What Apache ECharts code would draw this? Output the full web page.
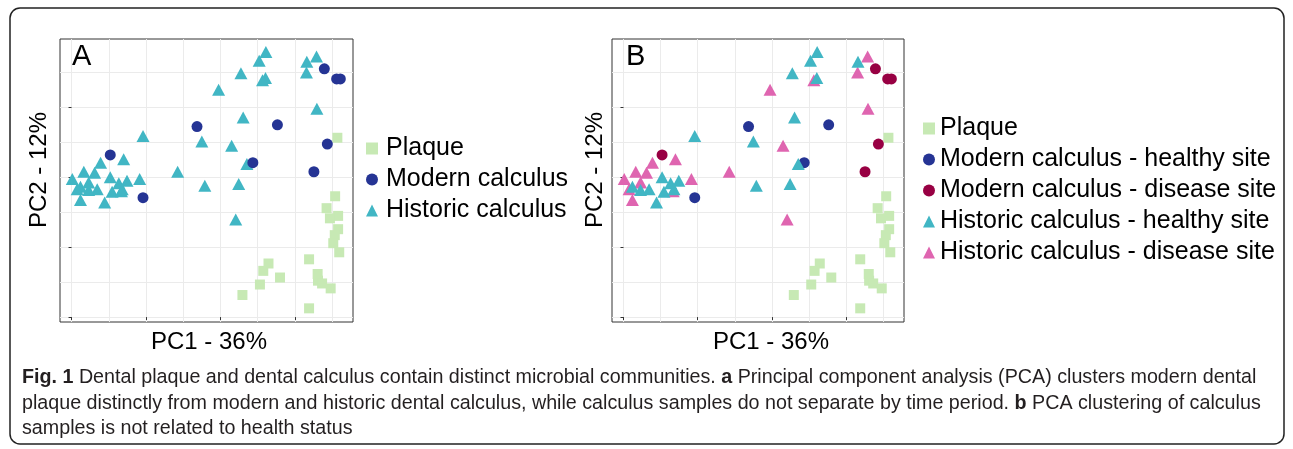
<!DOCTYPE html>
<html>
<head>
<meta charset="utf-8">
<script src="https://cdn.jsdelivr.net/npm/echarts@6/dist/echarts.min.js"></script>
<style>
  html, body { margin: 0; padding: 0; background: #fff; }
  #fig { width: 1293px; height: 449px; }
</style>
</head>
<body>
<div id="fig"></div>
<script>
// PCA scores (PC1, PC2), arbitrary units
var plaque = [
  [7.14, 5.12], [7.08, 3.45], [6.85, 3.11], [7.16, 2.89], [6.94, 2.82],
  [7.16, 2.51], [7.07, 2.34], [7.03, 2.11], [7.19, 1.85], [6.38, 1.65],
  [5.29, 1.53], [5.15, 1.32], [5.60, 1.13], [5.06, 0.93], [4.59, 0.63],
  [6.61, 1.23], [6.62, 1.04], [6.73, 0.96], [6.96, 0.82], [6.38, 0.25]
];
var modernHealthy = [[1.92, 3.41], [3.37, 5.44], [5.53, 5.49], [4.87, 4.41]];
var modernDisease = [[1.04, 4.63], [6.79, 7.09], [7.12, 6.80], [7.22, 6.80], [6.87, 4.94], [6.51, 4.15]];
var historicHealthy = [
  [5.22, 7.57], [5.04, 7.32], [4.55, 6.96], [5.21, 6.83], [4.61, 5.70],
  [3.50, 5.01], [4.71, 4.37], [3.58, 3.75], [4.49, 3.80], [6.32, 7.29],
  [1.92, 5.17], [1.04, 3.99], [0.24, 3.72], [0.69, 3.65], [1.27, 3.82],
  [1.49, 3.89], [0.89, 3.27], [1.09, 3.58], [1.36, 3.65], [0.46, 3.63]
];
var historicDisease = [
  [5.13, 6.76], [3.95, 6.49], [4.30, 4.89], [2.85, 4.15], [4.41, 2.79],
  [6.58, 7.44], [6.31, 6.98], [6.59, 5.95], [0.02, 3.94], [0.33, 4.15],
  [0.78, 4.41], [1.40, 4.51], [0.62, 4.12], [0.46, 3.84], [1.83, 3.94],
  [0.24, 3.34], [1.34, 3.59], [0.15, 3.65]
];

var tickValues = [0, 2, 4, 6];
var gridValues = [0, 1, 2, 3, 4, 5, 6, 7];
var legendA = ['Plaque', 'Modern calculus', 'Historic calculus'];
var legendB = ['Plaque', 'Modern calculus - healthy site', 'Modern calculus - disease site',
               'Historic calculus - healthy site', 'Historic calculus - disease site'];

var colors = {
  plaque: '#c7e9b4',
  modern: '#253494',
  modernDis: '#980043',
  historic: '#41b6c4',
  historicDis: '#df65b0'
};

var font = '"Liberation Sans", Arial, sans-serif';
var range = { xmin: -0.31, xmax: 7.56, ymin: -0.14, ymax: 7.94 };

function dataAxis(dim, gi) {
  return {
    type: 'value', gridIndex: gi,
    min: dim === 'x' ? range.xmin : range.ymin,
    max: dim === 'x' ? range.xmax : range.ymax,
    position: dim === 'x' ? 'bottom' : 'left',
    axisLine: { show: false },
    axisTick: { show: true, length: 3, customValues: tickValues, lineStyle: { color: '#333', width: 1 } },
    axisLabel: { show: false },
    splitLine: { show: false }
  };
}
// second axis only used for the light grid lines (major + minor)
function gridAxis(dim, gi) {
  return {
    type: 'value', gridIndex: gi,
    min: dim === 'x' ? range.xmin : range.ymin,
    max: dim === 'x' ? range.xmax : range.ymax,
    position: dim === 'x' ? 'top' : 'right',
    axisLine: { show: false },
    axisTick: { show: false, customValues: gridValues },
    axisLabel: { show: false },
    splitLine: { show: true, lineStyle: { color: '#ebebeb', width: 1 } }
  };
}

function sc(name, data, symbol, size, color, xi, yi) {
  return {
    name: name, type: 'scatter', data: data,
    xAxisIndex: xi, yAxisIndex: yi,
    symbol: symbol, symbolSize: size,
    itemStyle: { color: color, opacity: 1 },
    emphasis: { disabled: true }
  };
}

var legendText = { fontFamily: font, fontSize: 25, lineHeight: 25, color: '#000' };

var myChart = echarts.init(document.getElementById('fig'));
var option = {
  animation: false,
  backgroundColor: '#fff',
  grid: [
    { left: 60, top: 39, width: 293, height: 283, show: true, borderColor: '#333', borderWidth: 1, backgroundColor: '#fff' },
    { left: 612, top: 39, width: 292, height: 283, show: true, borderColor: '#333', borderWidth: 1, backgroundColor: '#fff' }
  ],
  xAxis: [dataAxis('x', 0), gridAxis('x', 0), dataAxis('x', 1), gridAxis('x', 1)],
  yAxis: [dataAxis('y', 0), gridAxis('y', 0), dataAxis('y', 1), gridAxis('y', 1)],
  legend: [
    {
      data: legendA, orient: 'vertical', left: 361, top: 131,
      itemWidth: 12, itemHeight: 12, itemGap: 6,
      textStyle: Object.assign({ padding: [0, 0, 0, 3] }, legendText)
    },
    {
      data: legendB, orient: 'vertical', left: 918, top: 111,
      itemWidth: 12, itemHeight: 12, itemGap: 6,
      textStyle: legendText
    }
  ],
  series: [
    sc('Plaque', plaque, 'rect', 10, colors.plaque, 0, 0),
    sc('Historic calculus', historicHealthy.concat(historicDisease), 'triangle', [13, 12], colors.historic, 0, 0),
    sc('Modern calculus', modernHealthy.concat(modernDisease), 'circle', 11, colors.modern, 0, 0),

    sc('Plaque', plaque, 'rect', 10, colors.plaque, 2, 2),
    sc('Modern calculus - disease site', modernDisease, 'circle', 11, colors.modernDis, 2, 2),
    sc('Modern calculus - healthy site', modernHealthy, 'circle', 11, colors.modern, 2, 2),
    sc('Historic calculus - disease site', historicDisease, 'triangle', [13, 12], colors.historicDis, 2, 2),
    sc('Historic calculus - healthy site', historicHealthy, 'triangle', [13, 12], colors.historic, 2, 2)
  ],
  graphic: [
    // outer rounded frame
    { type: 'rect', z: -10, shape: { x: 10, y: 8, width: 1274, height: 436, r: 10 },
      style: { fill: '#fff', stroke: '#222', lineWidth: 1.5 } },
    // panel letters
    { type: 'text', left: 72, top: 42, style: { text: 'A', font: '29px ' + font, fill: '#000' } },
    { type: 'text', left: 626, top: 42, style: { text: 'B', font: '29px ' + font, fill: '#000' } },
    // axis titles
    { type: 'text', x: 209, y: 342, style: { text: 'PC1 - 36%', font: '24px ' + font, fill: '#000', align: 'center', verticalAlign: 'middle' } },
    { type: 'text', x: 771, y: 342, style: { text: 'PC1 - 36%', font: '24px ' + font, fill: '#000', align: 'center', verticalAlign: 'middle' } },
    { type: 'text', x: 39, y: 170, rotation: Math.PI / 2, style: { text: 'PC2 - 12%', font: '24px ' + font, fill: '#000', align: 'center', verticalAlign: 'middle' } },
    { type: 'text', x: 595, y: 170, rotation: Math.PI / 2, style: { text: 'PC2 - 12%', font: '24px ' + font, fill: '#000', align: 'center', verticalAlign: 'middle' } },
    // caption
    { type: 'text', x: 22, y: 378, style: {
        text: '{b|Fig. 1} Dental plaque and dental calculus contain distinct microbial communities. {b|a} Principal component analysis (PCA) clusters modern dental',
        font: '19.7px ' + font, fill: '#231f20', verticalAlign: 'middle',
        rich: { b: { fontWeight: 'bold', fontFamily: font, fontSize: 19.7, fill: '#231f20' } } } },
    { type: 'text', x: 22, y: 404, style: {
        text: 'plaque distinctly from modern and historic dental calculus, while calculus samples do not separate by time period. {b|b} PCA clustering of calculus',
        font: '19.7px ' + font, fill: '#231f20', verticalAlign: 'middle',
        rich: { b: { fontWeight: 'bold', fontFamily: font, fontSize: 19.7, fill: '#231f20' } } } },
    { type: 'text', x: 22, y: 429, style: {
        text: 'samples is not related to health status',
        font: '19.7px ' + font, fill: '#231f20', verticalAlign: 'middle' } }
  ]
};
myChart.setOption(option);
window.addEventListener('resize', function () { myChart.resize(); });
</script>
</body>
</html>
